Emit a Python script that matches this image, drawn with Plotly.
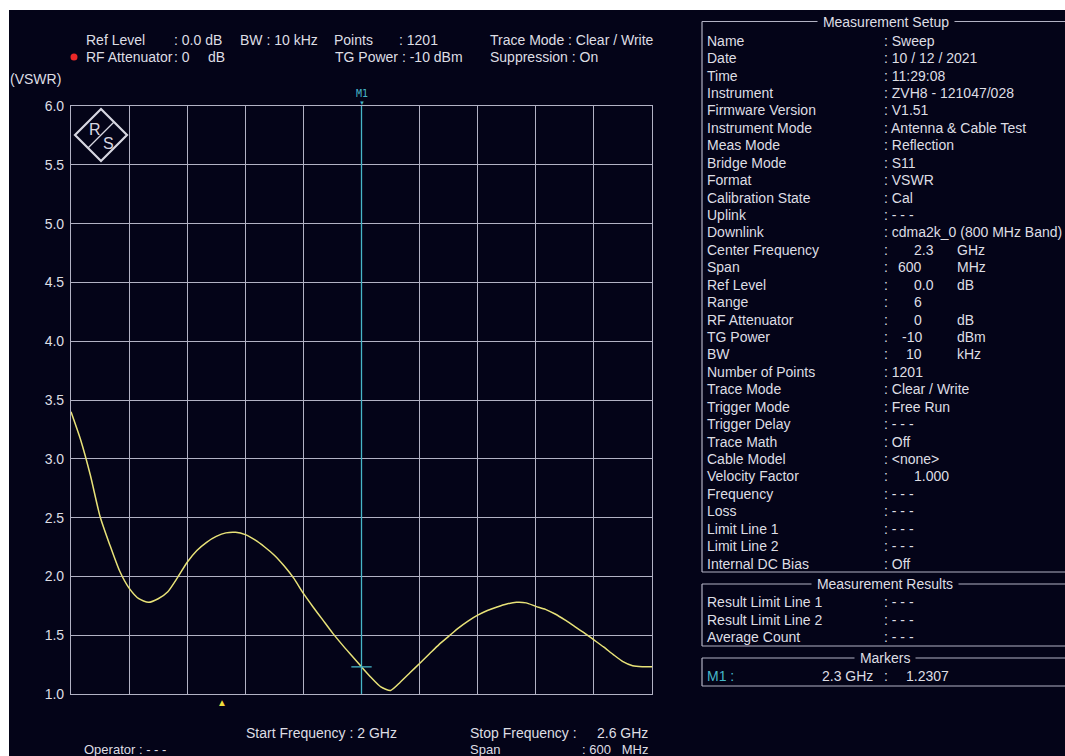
import plotly.graph_objects as go

# ---------------- data ----------------
freq_ghz = [2.00, 2.01, 2.02, 2.03, 2.04, 2.05, 2.06, 2.07, 2.08, 2.09,
            2.10, 2.11, 2.12, 2.13, 2.14, 2.15, 2.16, 2.17, 2.18, 2.19,
            2.20, 2.21, 2.22, 2.23, 2.24, 2.25, 2.26, 2.27, 2.28, 2.29,
            2.30, 2.31, 2.32, 2.33, 2.34, 2.35, 2.36, 2.37, 2.38, 2.39,
            2.40, 2.41, 2.42, 2.43, 2.44, 2.45, 2.46, 2.47, 2.48, 2.49,
            2.50, 2.51, 2.52, 2.53, 2.54, 2.55, 2.56, 2.57, 2.58, 2.59, 2.60]
vswr = [3.40, 3.16, 2.86, 2.51, 2.27, 2.05, 1.90, 1.81, 1.78, 1.81,
        1.87, 1.99, 2.12, 2.22, 2.29, 2.34, 2.37, 2.375, 2.355, 2.31,
        2.25, 2.18, 2.09, 1.985, 1.855, 1.74, 1.63, 1.52, 1.42, 1.325,
        1.231, 1.14, 1.06, 1.03, 1.10, 1.18, 1.26, 1.34, 1.42, 1.49,
        1.56, 1.62, 1.67, 1.71, 1.74, 1.765, 1.78, 1.775, 1.745, 1.72,
        1.68, 1.63, 1.575, 1.52, 1.46, 1.40, 1.335, 1.275, 1.24, 1.232, 1.232]

y_ticks = [1.0, 1.5, 2.0, 2.5, 3.0, 3.5, 4.0, 4.5, 5.0, 5.5, 6.0]
x_grid = [2.00, 2.06, 2.12, 2.18, 2.24, 2.30, 2.36, 2.42, 2.48, 2.54, 2.60]

marker_name = "M1"
marker_freq = 2.3
marker_vswr = 1.2307
bottom_indicator_freq = 2.156

header_row1 = [("Ref Level", 84), (": 0.0 dB", 172), ("BW : 10 kHz", 238),
               ("Points", 332), (": 1201", 397), ("Trace Mode : Clear / Write", 488)]
header_row2 = [("RF Attenuator", 84), (": 0", 172), ("dB", 206),
               ("TG Power : -10 dBm", 333), ("Suppression : On", 488)]

setup_rows = [
    ("Name", ": Sweep", None),
    ("Date", ": 10 / 12 / 2021", None),
    ("Time", ": 11:29:08", None),
    ("Instrument", ": ZVH8 - 121047/028", None),
    ("Firmware Version", ": V1.51", None),
    ("Instrument Mode", ": Antenna &amp; Cable Test", None),
    ("Meas Mode", ": Reflection", None),
    ("Bridge Mode", ": S11", None),
    ("Format", ": VSWR", None),
    ("Calibration State", ": Cal", None),
    ("Uplink", ": - - -", None),
    ("Downlink", ": cdma2k_0 (800 MHz Band)", None),
    ("Center Frequency", "2.3", "GHz"),
    ("Span", "600", "MHz"),
    ("Ref Level", "0.0", "dB"),
    ("Range", "6", ""),
    ("RF Attenuator", "0", "dB"),
    ("TG Power", "-10", "dBm"),
    ("BW", "10", "kHz"),
    ("Number of Points", ": 1201", None),
    ("Trace Mode", ": Clear / Write", None),
    ("Trigger Mode", ": Free Run", None),
    ("Trigger Delay", ": - - -", None),
    ("Trace Math", ": Off", None),
    ("Cable Model", ": &lt;none&gt;", None),
    ("Velocity Factor", "1.000", ""),
    ("Frequency", ": - - -", None),
    ("Loss", ": - - -", None),
    ("Limit Line 1", ": - - -", None),
    ("Limit Line 2", ": - - -", None),
    ("Internal DC Bias", ": Off", None),
]
result_rows = [("Result Limit Line 1", ": - - -"),
               ("Result Limit Line 2", ": - - -"),
               ("Average Count", ": - - -")]

# ---------------- style ----------------
W, H = 1065, 756
L, R, T, B = 71, 652, 106, 694          # plot area in pixels
BG = "rgb(4,4,24)"
GRID = "rgb(178,178,196)"
TXT = "rgb(222,222,228)"
YEL = "rgb(232,226,120)"
CYAN = "rgb(70,182,200)"
FONT = "Liberation Sans, Arial, sans-serif"
FS = 14


def px(x):
    return (x - L) / (R - L)


def py(y):
    return (B - y) / (B - T)


annotations = []
shapes = []


def text(s, x, y, anchor="left", color=TXT, size=FS, bg=None):
    a = dict(text=s, x=px(x), y=py(y), xref="paper", yref="paper",
             xanchor=anchor, yanchor="middle", showarrow=False,
             font=dict(family=FONT, size=size, color=color))
    if bg:
        a["bgcolor"] = bg
        a["borderpad"] = 1
    annotations.append(a)


def line(x0, y0, x1, y1, color=GRID, width=1.2):
    shapes.append(dict(type="line", xref="paper", yref="paper",
                       x0=px(x0), y0=py(y0), x1=px(x1), y1=py(y1),
                       line=dict(color=color, width=width)))


# dark background panel (thin white strip on top/left)
shapes.append(dict(type="rect", xref="paper", yref="paper", layer="below",
                   x0=px(9), x1=px(1075), y0=py(10), y1=py(770),
                   fillcolor=BG, line=dict(width=0)))

fig = go.Figure()
fig.add_trace(go.Scatter(x=freq_ghz, y=vswr, mode="lines",
                         line=dict(color=YEL, width=1.5, shape="spline", smoothing=0.6),
                         hoverinfo="skip", showlegend=False))

# marker M1 vertical line + cross tick
shapes.append(dict(type="line", xref="x", yref="y", x0=marker_freq, x1=marker_freq,
                   y0=1.0, y1=6.0, line=dict(color=CYAN, width=1.3)))
shapes.append(dict(type="line", xref="x", yref="y", x0=marker_freq - 0.0105,
                   x1=marker_freq + 0.0105, y0=marker_vswr, y1=marker_vswr,
                   line=dict(color=CYAN, width=1.3)))
annotations.append(dict(text=marker_name, x=marker_freq, y=6.0, xref="x", yref="y",
                        xanchor="center", yanchor="bottom", yshift=5, showarrow=False,
                        font=dict(family="DejaVu Sans Mono, monospace", size=10, color=CYAN)))
annotations.append(dict(text="▼", x=marker_freq, y=6.0, xref="x", yref="y",
                        xanchor="center", yanchor="bottom", yshift=-2, showarrow=False,
                        font=dict(size=6, color=CYAN)))
annotations.append(dict(text="▲", x=bottom_indicator_freq, y=1.0, xref="x", yref="y",
                        xanchor="center", yanchor="top", yshift=-1, showarrow=False,
                        font=dict(size=10, color="rgb(240,220,60)")))

# header
for s, x in header_row1:
    text(s, x, 40)
for s, x in header_row2:
    text(s, x, 57)
shapes.append(dict(type="circle", xref="paper", yref="paper",
                   x0=px(70.5), x1=px(77.5), y0=py(53.5), y1=py(60.5),
                   fillcolor="rgb(235,40,40)", line=dict(width=0)))
text("(VSWR)", 8, 79)

# bottom texts
text("Start Frequency : 2 GHz", 244, 733)
text("Stop Frequency :", 468, 733)
text("2.6 GHz", 650, 733, anchor="right")
text("Span", 468, 749, size=13)
text(": 600   MHz", 650, 749, anchor="right", size=13)
text("Operator : - - -", 82, 749, size=13)

# R&S logo
cx, cy, hw = 101, 135, 26
shapes.append(dict(type="path", xref="paper", yref="paper",
                   path=f"M {px(cx)},{py(cy-hw)} L {px(cx+hw)},{py(cy)} L {px(cx)},{py(cy+hw)} L {px(cx-hw)},{py(cy)} Z",
                   line=dict(color="rgb(215,215,225)", width=2.2)))
line(cx - 13, cy + 13, cx + 13, cy - 13, color="rgb(215,215,225)", width=1.2)
text("R", 87, 129, color="rgb(215,215,225)", size=16)
text("S", 101, 143, color="rgb(215,215,225)", size=16)

# right panel boxes (right border sits just past the window edge)
BL, BR = 702, 1067
col_label, col_colon, col_unit, col_dec = 705, 882, 955, 924
ys = 21.5
ye = 572
line(BL, ys, BR, ys); line(BL, ys, BL, ye); line(BL, ye, BR, ye)
text(" Measurement Setup ", 886, ys, anchor="center", bg=BG)
for i, (lab, val, unit) in enumerate(setup_rows):
    y = 40.7 + 17.43 * i
    text(lab, col_label, y)
    if unit is None:
        text(val, col_colon, y)
    else:
        text(":", col_colon, y)
        frac = val.split(".")[1] if "." in val else None
        right = col_dec + (3.9 + 7.8 * len(frac) if frac else 0)
        text(val, right, y, anchor="right")
        if unit:
            text(unit, col_unit, y)

rs, re_ = 584, 646
line(BL, rs, BR, rs); line(BL, rs, BL, re_); line(BL, re_, BR, re_)
text(" Measurement Results ", 885, rs, anchor="center", bg=BG)
for i, (lab, val) in enumerate(result_rows):
    y = 602 + 17.5 * i
    text(lab, col_label, y)
    text(val, col_colon, y)

ms, me = 658, 686
line(BL, ms, BR, ms); line(BL, ms, BL, me); line(BL, me, BR, me)
text(" Markers ", 885, ms, anchor="center", bg=BG)
text(marker_name + " :", col_label, 676, color=CYAN)
text(f"{marker_freq} GHz", 875, 676, anchor="right")
text(":", col_colon, 676)
text(f"{marker_vswr}", 951, 676, anchor="right")

fig.update_layout(
    width=W, height=H,
    margin=dict(l=L, r=W - R, t=T, b=H - B),
    paper_bgcolor="white", plot_bgcolor=BG,
    showlegend=False,
    font=dict(family=FONT, size=FS, color=TXT),
    xaxis=dict(range=[2.0, 2.6], tickvals=x_grid, showticklabels=False, ticks="",
               showgrid=True, gridcolor=GRID, gridwidth=1.2, zeroline=False,
               showline=True, linecolor=GRID, linewidth=1.2, mirror=True, fixedrange=True),
    yaxis=dict(range=[1.0, 6.0], tickvals=y_ticks, ticktext=[f"{v:.1f}" for v in y_ticks],
               ticks="outside", ticklen=3, tickcolor=BG,
               showgrid=True, gridcolor=GRID, gridwidth=1.2, zeroline=False,
               showline=True, linecolor=GRID, linewidth=1.2, mirror=True, fixedrange=True,
               tickfont=dict(family=FONT, size=14, color=TXT)),
    shapes=shapes, annotations=annotations,
)

fig.write_html("out.html", config={"displayModeBar": False},
               post_script="document.body.style.margin='0';document.body.style.overflow='hidden';")
